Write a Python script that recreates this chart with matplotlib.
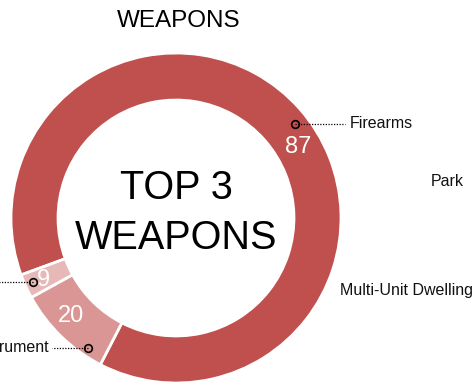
import matplotlib.pyplot as plt
import numpy as np

plt.rcParams['font.family'] = ['Liberation Sans', 'DejaVu Sans']

# data
categories = ["Firearms", "Knives", "Blunt Instrument"]
counts = [87, 9, 20]               # numbers printed on the ring
share_pct = [88.1, 2.4, 9.4]       # arc size of each slice
colors = ["#C0504D", "#E6B9B8", "#D99694"]
stray_labels = ["Park", "Multi-Unit Dwelling"]

fig = plt.figure(figsize=(4.77, 3.85), dpi=100)
ax = fig.add_axes([0, 0, 1, 1])

# ring centre (176, 218) px, outer radius 165 px
R = 165.0
cx, cy = 176.0, 218.0

def px(x, y):
    return (x - cx) / R, (cy - y) / R

start = 242.7
wedges, _ = ax.pie(share_pct, colors=colors, startangle=start, counterclock=True,
                   radius=1.0, wedgeprops=dict(width=0.285, edgecolor="white", linewidth=2))
ax.set_xlim((0 - cx) / R, (477 - cx) / R)
ax.set_ylim((cy - 385) / R, cy / R)
ax.set_aspect("auto")
ax.axis("off")

# value labels and leader lines
label_shift = [-10.5, 0.0, -3.3]
leader_shift = [-3.0, -0.5, 10.2]
label_r = [0.86, 0.88, 0.86]
leader_r = [0.92, 0.95, 0.95]
text_side = [1, -1, -1]
for w, n, name, ls, ld, lr, rr, side in zip(wedges, counts, categories, label_shift,
                                             leader_shift, label_r, leader_r, text_side):
    mid = np.deg2rad((w.theta1 + w.theta2) / 2)
    a = mid + np.deg2rad(ls)
    ax.text(lr * np.cos(a), lr * np.sin(a) - 2 / R, str(n), color="white", fontsize=17,
            ha="center", va="center")
    b = mid + np.deg2rad(ld)
    x0, y0 = rr * np.cos(b), rr * np.sin(b)
    if side > 0:
        x1 = px(345, 0)[0]
        xt = px(350, 0)[0]
        ha = "left"
    else:
        x1 = x0 - 36 / R
        xt = x1 - 4 / R
        ha = "right"
    ax.plot([x0, x1], [y0, y0], color="black", linestyle=(0, (1, 1.2)), linewidth=0.9)
    ax.plot(x0, y0, marker="o", markersize=5.5, markerfacecolor="none",
            markeredgecolor="black", markeredgewidth=1.2)
    ax.text(xt, y0, name, fontsize=11.5, ha=ha, va="center", color="#111111")

# labels left over from another chart
ax.text(*px(431, 181), stray_labels[0], fontsize=11.5, ha="left", va="center", color="#111111")
ax.text(*px(340, 290), stray_labels[1], fontsize=11.5, ha="left", va="center", color="#111111")

# centre text
ax.text(*px(176, 188), "TOP 3", fontsize=28.5, ha="center", va="center")
ax.text(*px(176, 238), "WEAPONS", fontsize=28.5, ha="center", va="center")

fig.text(179 / 477, 1 - 21 / 385, "WEAPONS", fontsize=17.5, ha="center", va="center")

fig.savefig("out.png", dpi=100)
